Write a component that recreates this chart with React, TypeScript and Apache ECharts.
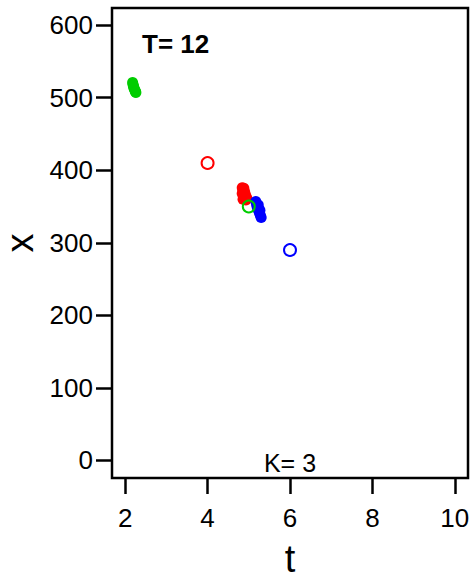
import React, { useEffect, useRef } from "react";
import * as echarts from "echarts";

const xTicks = [2, 4, 6, 8, 10];
const yTicks = [0, 100, 200, 300, 400, 500, 600];

const greenPath: [number, number][] = [
  [2.18, 521], [2.19, 518], [2.2, 516], [2.21, 514], [2.22, 512], [2.24, 510], [2.25, 508], [2.26, 507],
];
const redPath: [number, number][] = [
  [4.84, 376], [4.88, 375], [4.86, 372], [4.9, 370], [4.84, 368], [4.92, 366], [4.88, 363], [4.95, 362], [4.86, 360], [4.93, 359],
];
const bluePath: [number, number][] = [
  [5.17, 357], [5.19, 353], [5.2, 350], [5.23, 352], [5.22, 347], [5.24, 344], [5.27, 345], [5.26, 341], [5.28, 338], [5.3, 335],
];
const redStart: [number, number][] = [[4, 410]];
const greenStart: [number, number][] = [[5, 350]];
const blueStart: [number, number][] = [[6, 290]];

const RED = "#FF0000";
const GREEN = "#00CD00";
const BLUE = "#0000FF";
const FONT = "Liberation Sans, Arial, sans-serif";

export default function App() {
  const ref = useRef<HTMLDivElement>(null);
  useEffect(() => {
    document.body.style.margin = "0";
    if (!ref.current) return;
    const chart = echarts.init(ref.current, undefined, { renderer: "svg" });
    const filled = (data: [number, number][], color: string) => ({
      type: "scatter",
      data,
      symbol: "circle",
      symbolSize: 11,
      itemStyle: { color, opacity: 1 },
      silent: true,
    });
    const ring = (data: [number, number][], color: string) => ({
      type: "scatter",
      data,
      symbol: "circle",
      symbolSize: 12,
      itemStyle: { color: "rgba(0,0,0,0)", borderColor: color, borderWidth: 2, opacity: 1 },
      silent: true,
    });
    chart.setOption({
      animation: false,
      grid: {
        left: 112,
        right: 8,
        top: 8,
        bottom: 102,
        outerBoundsMode: "none",
        containLabel: false,
        show: true,
        borderColor: "#000",
        borderWidth: 2.5,
        backgroundColor: "#fff",
      },
      xAxis: {
        type: "value",
        min: 1.68,
        max: 10.32,
        axisLine: { show: false, onZero: false },
        splitLine: { show: false },
        axisTick: {
          show: true,
          inside: false,
          length: 16,
          customValues: xTicks,
          lineStyle: { color: "#000", width: 2.5 },
        },
        axisLabel: {
          customValues: xTicks,
          margin: 27,
          color: "#000",
          fontSize: 26,
          fontFamily: FONT,
        },
        name: "t",
        nameLocation: "middle",
        nameGap: 62,
        nameTextStyle: { fontSize: 38, color: "#000", fontFamily: FONT },
      },
      yAxis: {
        type: "value",
        min: -24.2,
        max: 623.6,
        axisLine: { show: false, onZero: false },
        splitLine: { show: false },
        axisTick: {
          show: true,
          inside: false,
          length: 16,
          customValues: yTicks,
          lineStyle: { color: "#000", width: 2.5 },
        },
        axisLabel: {
          customValues: yTicks,
          margin: 19,
          color: "#000",
          fontSize: 26,
          fontFamily: FONT,
        },
        name: "x",
        nameLocation: "middle",
        nameGap: 67,
        nameRotate: 90,
        nameTextStyle: { fontSize: 38, color: "#000", fontFamily: FONT },
      },
      graphic: [
        {
          type: "text",
          left: 142,
          top: 31,
          style: { text: "T= 12", fontSize: 26, fontWeight: "bold", fill: "#000", fontFamily: FONT },
        },
        {
          type: "text",
          x: 290,
          y: 463,
          style: {
            text: "K= 3",
            fontSize: 25,
            fill: "#000",
            fontFamily: FONT,
            textAlign: "center",
            textVerticalAlign: "middle",
          },
        },
      ],
      series: [
        filled(greenPath, GREEN),
        filled(redPath, RED),
        filled(bluePath, BLUE),
        ring(redStart, RED),
        ring(blueStart, BLUE),
        ring(greenStart, GREEN),
      ],
    });
    return () => chart.dispose();
  }, []);
  return <div ref={ref} style={{ width: 476, height: 580 }} />;
}
